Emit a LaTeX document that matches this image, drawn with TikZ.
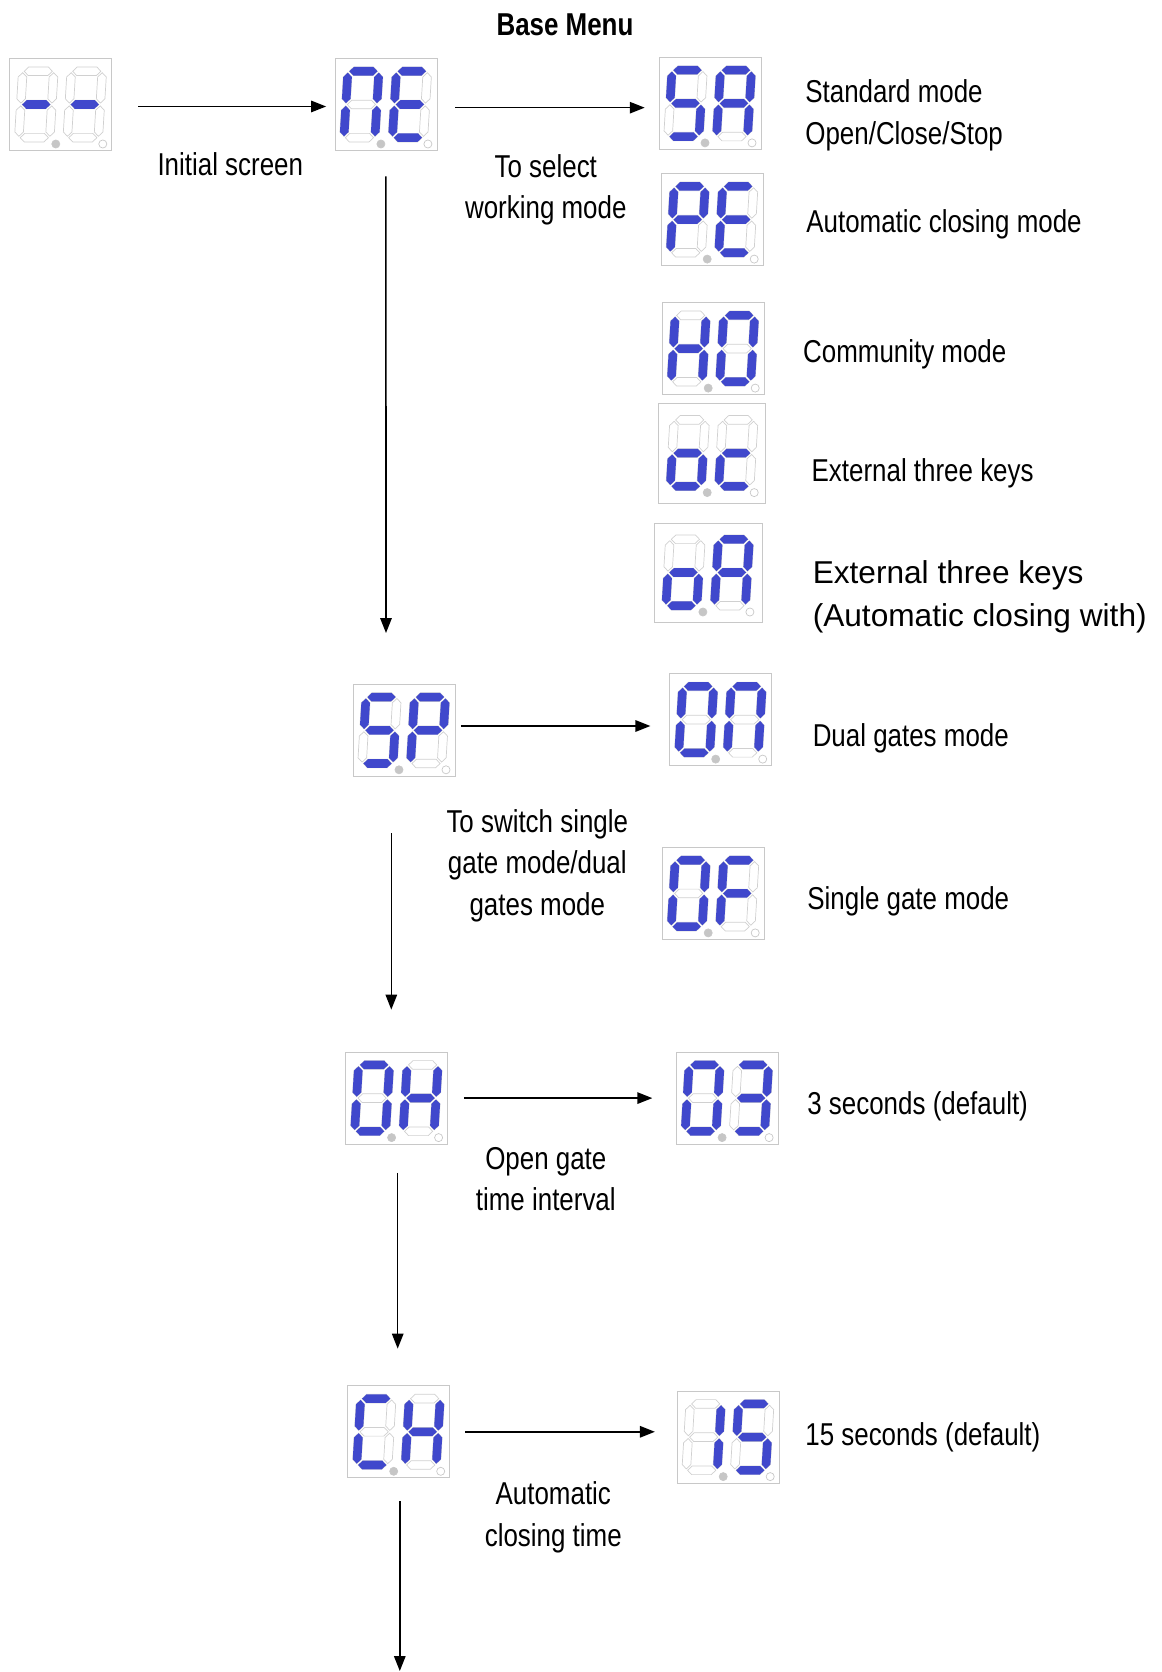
\documentclass[tikz,border=0pt]{standalone}
\usepackage{fontspec}
\setmainfont{Liberation Sans}[FakeStretch=0.82]
\newfontfamily\widefont{Liberation Sans}
\usetikzlibrary{arrows.meta}

\definecolor{segblue}{RGB}{64,72,204}
\definecolor{seggray}{RGB}{200,200,200}

% bars of a seven-segment digit (local units, y down)
\newcommand{\hsegm}[4]{\path[#1] (#2+1.4,#4) -- (#2+5.7,#4-4.3) -- (#3-5.7,#4-4.3)
  -- (#3-1.4,#4) -- (#3-5.7,#4+4.3) -- (#2+5.7,#4+4.3) -- cycle;}
\newcommand{\vsegm}[4]{\path[#1] (#4,#2+1.4) -- (#4+4.3,#2+5.7) -- (#4+4.3,#3-5.7)
  -- (#4,#3-1.4) -- (#4-4.3,#3-5.7) -- (#4-4.3,#2+5.7) -- cycle;}
\newcommand{\segA}[1]{\hsegm{#1}{-15.5}{15.5}{-33.2}}
\newcommand{\segG}[1]{\hsegm{#1}{-15.5}{15.5}{0}}
\newcommand{\segD}[1]{\hsegm{#1}{-15.5}{15.5}{33.2}}
\newcommand{\segF}[1]{\vsegm{#1}{-33.2}{0}{-15.5}}
\newcommand{\segB}[1]{\vsegm{#1}{-33.2}{0}{15.5}}
\newcommand{\segE}[1]{\vsegm{#1}{0}{33.2}{-15.5}}
\newcommand{\segC}[1]{\vsegm{#1}{0}{33.2}{15.5}}

\newcommand{\digit}[2]{%
  \begin{scope}[shift={#1}, xslant=0.06]
    \foreach \s in {A,B,C,D,E,F,G} {\csname seg\s\endcsname{segoff}}
    \foreach \s in {#2} {\csname seg\s\endcsname{segon}}
  \end{scope}}

% two-digit display: name, position, left digit, right digit
\newcommand{\display}[5][]{%
  \node[dispbox,#1] (#2) at (#3) {};
  \begin{scope}[shift={(#2.center)}]
    \digit{(-24.5,0)}{#4}
    \digit{(24,0)}{#5}
    \filldraw[draw=seggray, fill=gray!45] (-5,39.5) circle[radius=2.3pt];
    \draw[seggray] (42,39.5) circle[radius=2.3pt];
  \end{scope}}

\begin{document}
\begin{tikzpicture}[
    x=0.02cm, y=-0.02cm,
    font=\fontsize{18}{23.7}\selectfont,
    dispbox/.style={draw=seggray, minimum width=58pt, minimum height=52.4pt, inner sep=0},
    segon/.style={fill=segblue},
    segoff/.style={draw=seggray!85, line width=0.4pt},
    lbl/.style={inner sep=0, anchor=west, align=left},
    mid/.style={inner sep=0, align=center},
    arrow/.style={-{Triangle[length=8.5pt, width=6.5pt]}, line width=0.9pt}
]
\useasboundingbox (0,0) rectangle (1161,1672);

% displays
\display{blank}{60.8,104.5}{G}{G}
\display{ne}{385.9,104.5}{A,B,C,E,F}{A,D,E,F,G}
\display{sa}{710,103.4}{A,C,D,F,G}{A,B,C,E,F,G}
\display{pe}{712.2,219.6}{A,B,E,F,G}{A,D,E,F,G}
\display{ho}{713.2,348.6}{B,C,E,F,G}{A,B,C,D,E,F}
\display[minimum width=61pt, minimum height=57pt]{oc}{712.2,453.1}{C,D,E,G}{D,E,G}
\display[minimum width=61.5pt, minimum height=56.4pt]{oa}{707.9,572.5}{C,D,E,G}{A,B,C,E,F,G}
\display{sp}{404,730.3}{A,C,D,F,G}{A,B,E,F,G}
\display{on}{720.7,719.6}{A,B,C,D,E,F}{A,B,C,E,F}
\display{of}{713.2,893.4}{A,B,C,D,E,F}{A,E,F,G}
\display{oh}{396.6,1098.1}{A,B,C,D,E,F}{B,C,E,F,G}
\display{three}{727.1,1098.1}{A,B,C,D,E,F}{A,B,C,D,G}
\display{ch}{398.7,1431.8}{A,D,E,F}{B,C,E,F,G}
\display{fifteen}{728.2,1437.1}{B,C}{A,C,D,F,G}

% labels
\node[mid, font=\fontsize{18}{23.7}\selectfont\bfseries] (title) at (565,24.5) {Base Menu};
\node[mid] (init-lbl) at (230.3,164) {Initial screen};
\node[mid] (mode-lbl) at (545.8,190) {To select\\working mode};
\node[lbl] (sa-lbl) at (805,115.5) {Standard mode\\Open/Close/Stop};
\node[lbl] (pe-lbl) at (806,224.7) {Automatic closing mode};
\node[lbl] (ho-lbl) at (802.8,354.8) {Community mode};
\node[lbl] (oc-lbl) at (811.3,473) {External three keys};
\node[lbl, font=\fontsize{18}{24.2}\selectfont\widefont] (oa-lbl) at (812.4,596.8)
  {External three keys\\(Automatic closing with)};
\node[lbl] (on-lbl) at (812.4,738.6) {Dual gates mode};
\node[mid] (sp-lbl) at (537.3,865.5) {To switch single\\gate mode/dual\\gates mode};
\node[lbl] (of-lbl) at (807,901.7) {Single gate mode};
\node[lbl] (three-lbl) at (807,1106.4) {3 seconds (default)};
\node[mid] (oh-lbl) at (545.8,1179) {Open gate\\time interval};
\node[lbl] (fifteen-lbl) at (805,1437) {15 seconds (default)};
\node[mid] (ch-lbl) at (553.3,1517.4) {Automatic\\closing time};

% free ends of the downward arrows
\coordinate (ne-end) at (386,633);
\coordinate (sp-end) at (391.3,1009.6);
\coordinate (oh-end) at (397.7,1348.6);
\coordinate (ch-end) at (399.8,1671);

% connectors
\draw[arrow, shorten <=0.52cm, shorten >=0.17cm] ([yshift=-0.04cm]blank.east) -- ([yshift=-0.04cm]ne.west);
\draw[arrow, shorten <=0.36cm, shorten >=0.28cm] ([yshift=-0.064cm]ne.east) -- ([yshift=-0.064cm]ne.east -| sa.west);
\draw[arrow, shorten <=0.51cm] (ne.south) -- (ne-end);
\draw[arrow, shorten <=0.11cm, shorten >=0.38cm] ([yshift=0.086cm]sp.east) -- ([yshift=0.086cm]sp.east -| on.west);
\draw[arrow, shorten <=1.13cm] (sp.south -| sp-end) -- (sp-end);
\draw[arrow, shorten <=0.32cm, shorten >=0.47cm] (oh.east) -- (three.west);
\draw[arrow, shorten <=0.57cm] (oh.south -| oh-end) -- (oh-end);
\draw[arrow, shorten <=0.30cm, shorten >=0.44cm] (ch.east) -- (ch.east -| fifteen.west);
\draw[arrow, shorten <=0.46cm] (ch.south -| ch-end) -- (ch-end);
\end{tikzpicture}
\end{document}
